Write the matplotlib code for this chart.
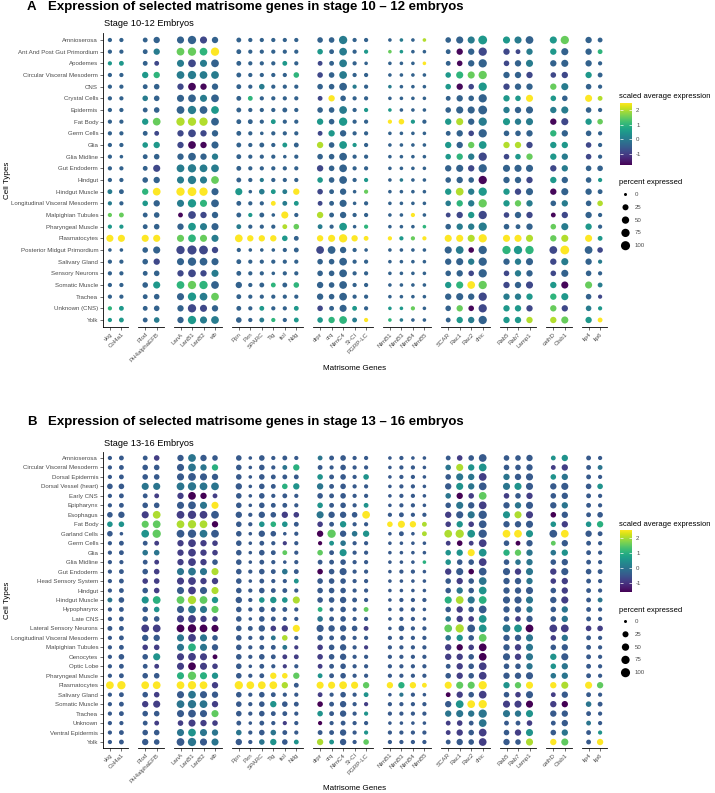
import numpy as np
import matplotlib as mpl
import matplotlib.pyplot as plt

plt.rcParams['font.family'] = ['Liberation Sans', 'DejaVu Sans']
plt.rcParams['axes.unicode_minus'] = False

W, H = 715, 793

GENE_GROUPS = [
    ["vkg", "Col4a1"],
    ["Plod", "PH4alphaEFB"],
    ["LanA", "LanB1", "LanB2", "wb"],
    ["Ppn", "Pxn", "SPARC", "Tig", "tiol", "Ndg"],
    ["drpr", "crq", "NimC4", "Sr-CI", "PGRP-LC"],
    ["NimB1", "NimB3", "NimB4", "NimB5"],
    ["SCAR", "Rac1", "Rac2", "chic"],
    ["Rab5", "Rab7", "Lamp1"],
    ["cathD", "Ctsb1"],
    ["lip4", "lip6"],
]

# one character per gene, groups split by spaces
# colour code -> scaled average expression, size code -> percent expressed
EXPR_LEVELS = [-1.7, -0.85, -0.45, 0.0, 0.5, 1.0, 1.5, 2.0, 2.5]
PCT_LEVELS = [1, 4, 9, 18, 30, 45, 60, 75, 90, 100]

cells_a = [
    "Amnioserosa", "Ant And Post Gut Primordium", "Apodemes",
    "Circular Visceral Mesoderm", "CNS", "Crystal Cells", "Epidermis",
    "Fat Body", "Germ Cells", "Glia", "Glia Midline", "Gut Endoderm",
    "Hindgut", "Hindgut Muscle", "Longitudinal Visceral Mesoderm",
    "Malpighian Tubules", "Pharyngeal Muscle", "Plasmatocytes",
    "Posterior Midgut Primordium", "Salivary Gland", "Sensory Neurons",
    "Somatic Muscle", "Trachea", "Unknown (CNS)", "Yolk",
]
expr_a = [
    "22 22 2212 222222 22322 2327 2234 432 46 22",
    "22 23 6658 222222 42324 6422 2021 113 42 25",
    "44 21 3132 222242 12322 2228 2022 123 22 22",
    "22 45 3333 222225 12322 2222 4566 221 11 42",
    "22 22 1002 223222 22232 3222 4014 122 63 22",
    "22 32 2232 252222 18222 2222 2222 448 42 87",
    "22 22 2324 222222 22324 4222 2222 322 33 22",
    "22 46 7772 222422 42422 8842 4723 433 01 46",
    "22 21 1112 222222 14222 2222 2212 222 52 22",
    "22 44 1002 222242 72442 2222 4264 771 44 12",
    "22 22 2223 222222 22222 2222 4531 146 43 12",
    "22 21 3333 222222 12222 2222 2212 222 13 22",
    "22 22 3336 223222 42224 2322 2220 221 42 24",
    "32 58 8882 423438 12226 2222 4734 412 02 22",
    "32 42 3452 222834 12222 2222 3536 463 23 27",
    "66 22 0112 242282 72222 2282 1141 121 01 22",
    "44 22 2432 322276 32425 2225 2333 222 63 42",
    "88 88 6563 888842 88888 8468 8878 887 67 84",
    "22 22 1111 222222 12222 2222 2302 545 18 21",
    "22 21 2222 222222 22222 2222 2232 232 13 23",
    "22 22 1113 222222 22222 2222 2212 132 12 22",
    "22 24 5652 222525 22222 2222 4586 121 40 63",
    "22 22 2436 222222 22222 2222 2221 334 54 21",
    "54 22 2112 224224 12242 4462 2601 441 61 34",
    "44 23 2433 223524 45538 5322 2432 447 76 48",
]
pct_a = [
    "11 24 5754 211111 33711 0000 3558 556 57 42",
    "11 24 6767 211111 32611 0000 2447 424 45 42",
    "12 22 5656 211121 22610 0000 2347 345 45 41",
    "11 44 6766 211113 33611 0000 3557 444 34 42",
    "11 23 4644 213111 33611 0000 3437 444 45 31",
    "11 33 5656 221111 24311 0000 2437 435 33 52",
    "11 23 6766 211121 33611 0000 3558 445 45 31",
    "11 46 7776 221211 43711 1311 4547 545 45 43",
    "11 22 4644 210111 24411 0000 2437 334 44 31",
    "11 34 4645 212122 43611 0000 4446 444 44 31",
    "10 23 4644 211101 33611 0000 3447 334 44 31",
    "11 25 6766 211111 43611 0000 4547 555 44 33",
    "11 34 5756 211111 33611 0000 3437 444 44 31",
    "22 46 7875 503224 32401 0000 4647 445 45 42",
    "11 34 5756 211222 22501 0000 3447 444 34 33",
    "12 23 2644 212051 42411 0010 2447 344 24 41",
    "11 23 4655 211123 21601 0000 3447 324 35 41",
    "55 55 5655 644432 45742 1111 5557 555 45 52",
    "00 35 7984 100012 66410 0000 5637 777 68 63",
    "11 34 5765 211111 33611 0000 4547 445 45 41",
    "11 23 4645 211011 33611 0000 3437 344 35 31",
    "11 35 6776 412223 43611 0000 4567 445 45 52",
    "11 23 5766 211111 43611 0000 4547 444 45 31",
    "12 23 4754 212112 32521 0010 3437 444 44 31",
    "12 23 4756 312112 34621 0000 2447 444 45 42",
]

cells_b = [
    "Amnioserosa", "Circular Visceral Mesoderm", "Dorsal Epidermis",
    "Dorsal Vessel (heart)", "Early CNS", "Epipharynx", "Esophagus",
    "Fat Body", "Garland Cells", "Germ Cells", "Glia", "Glia Midline",
    "Gut Endoderm", "Head Sensory System", "Hindgut", "Hindgut Muscle",
    "Hypopharynx", "Late CNS", "Lateral Sensory Neurons",
    "Longitudinal Visceral Mesoderm", "Malpighian Tubules", "Oenocytes",
    "Optic Lobe", "Pharyngeal Muscle", "Plasmatocytes", "Salivary Gland",
    "Somatic Muscle", "Trachea", "Unknown", "Ventral Epidermis", "Yolk",
]
expr_b = [
    "22 21 2322 222222 32222 2222 2122 222 44 22",
    "22 22 2335 222235 22222 2222 3744 222 11 23",
    "22 22 2222 222222 42224 2222 2331 322 43 22",
    "22 33 3333 222254 32222 2222 2432 342 22 24",
    "22 21 1001 222222 22222 2222 3016 121 22 22",
    "22 22 2238 222222 42224 2222 2321 232 23 22",
    "22 17 1112 222211 32228 2222 1232 471 02 22",
    "44 66 7770 224542 12422 8887 1412 222 41 45",
    "22 46 2232 222222 06234 2227 7742 884 28 22",
    "22 21 1111 222212 04322 2222 1011 202 62 22",
    "22 33 1111 222262 62422 2222 4484 563 34 22",
    "22 21 1112 222222 22222 2225 4221 233 22 22",
    "22 21 3337 222232 02222 2222 1202 213 12 22",
    "22 11 1111 222224 22222 2222 2123 223 11 22",
    "22 21 2127 222222 22222 2222 2324 222 21 22",
    "32 45 6764 224447 22222 2222 5735 223 21 23",
    "22 24 2336 222222 52226 2222 2122 223 23 22",
    "22 22 1111 222222 32222 2222 3114 212 23 22",
    "22 11 0000 222118 22221 2222 6724 340 11 11",
    "22 22 3132 222372 22222 2222 3426 223 13 22",
    "22 11 3532 222231 12221 2222 1010 213 22 22",
    "22 24 1110 222211 12222 2222 1120 213 42 22",
    "22 21 1011 222212 12222 2222 2121 223 43 22",
    "22 22 5654 222886 42222 2222 2121 222 33 22",
    "88 88 8881 888872 88886 8588 8668 468 87 86",
    "22 21 2322 222222 12224 2322 0121 212 12 22",
    "22 11 3331 222422 02221 2222 2488 110 10 32",
    "22 22 2226 222222 42224 2222 3333 334 22 22",
    "22 21 1111 222212 02222 2222 1123 221 22 32",
    "22 22 3433 322322 22224 2222 1121 214 23 24",
    "22 22 2323 223424 74226 2222 2221 227 86 28",
]
pct_b = [
    "12 23 4643 303121 22311 0100 2336 334 24 21",
    "12 33 5644 303124 21311 0110 3546 334 24 22",
    "12 33 5654 303222 32313 0110 3546 445 34 21",
    "33 55 6766 403234 42311 0110 4546 555 45 33",
    "12 22 4642 303121 32311 0110 3436 334 34 21",
    "12 33 5655 303221 32312 0110 3546 445 44 21",
    "34 56 6766 414343 54436 1211 4557 555 34 23",
    "33 56 6764 313332 32411 3542 3436 445 34 34",
    "30 67 6766 304301 47434 0202 6767 665 66 42",
    "12 22 4643 302111 12311 0000 2326 324 24 21",
    "12 33 4643 303221 32511 0000 3456 444 34 21",
    "11 22 4643 302101 22311 0000 3336 334 34 21",
    "12 33 5655 313232 33511 0110 4536 545 45 32",
    "12 33 5644 302112 33311 0000 3436 444 34 21",
    "12 33 5655 313221 33311 0000 3436 445 34 21",
    "23 56 6764 413435 33421 0111 5656 555 45 22",
    "12 33 5655 313221 21312 0110 3436 444 34 21",
    "12 33 5643 303211 32311 0110 3436 334 34 21",
    "22 66 6765 324345 54432 0311 6766 666 66 33",
    "12 44 5653 312231 32311 1111 3436 445 34 21",
    "12 33 5654 312221 33411 1111 4436 445 34 21",
    "13 35 5652 313222 33411 1111 4436 545 45 21",
    "12 22 5653 302111 22311 1111 2436 334 34 21",
    "12 33 5754 312434 22311 1111 3436 445 34 21",
    "67 66 6764 766642 55654 4442 5557 445 45 54",
    "12 33 5654 313211 21312 0110 2436 335 24 21",
    "12 45 6764 313432 32411 1111 4667 555 44 32",
    "12 33 5655 313221 32411 1111 4547 545 44 21",
    "11 22 3543 202111 11211 0000 2326 223 24 21",
    "12 33 5654 313321 22411 1111 2436 345 34 21",
    "12 43 6755 413432 42413 1111 2436 435 45 24",
]

LEGEND_PCT = [0, 25, 50, 75, 100]

fig = plt.figure(figsize=(W / 100, H / 100), dpi=100)
overlay = fig.add_axes([0, 0, 1, 1])
overlay.set_xlim(0, W)
overlay.set_ylim(H, 0)
overlay.axis('off')

GREY = '#4d4d4d'


def decode(rows, levels):
    return np.array([[levels[int(c)] for c in r.replace(" ", "")] for r in rows], dtype=float)


def px_axes(x0, y0, x1, y1):
    return fig.add_axes([x0 / W, 1 - y1 / H, (x1 - x0) / W, (y1 - y0) / H])


def dot_size(pct):
    # diameter grows with sqrt(percent), like ggplot's scale_size
    d_px = 3.0 + 6.1 * np.sqrt(np.asarray(pct) / 100)
    return (d_px * 0.72) ** 2


def draw_panel(letter, title, subtitle, cells, expr, pct, top, bottom, vmin, vmax,
               title_y, leg_y):
    E = decode(expr, EXPR_LEVELS)
    P = decode(pct, PCT_LEVELS)
    n = len(cells)
    norm = mpl.colors.Normalize(vmin, vmax)

    left, right, gap = 103, 607, 10
    unit = (right - left - gap * (len(GENE_GROUPS) - 1)) / sum(len(g) + 0.2 for g in GENE_GROUPS)
    x = left
    col = 0
    for gi, genes in enumerate(GENE_GROUPS):
        w = (len(genes) + 0.2) * unit
        ax = px_axes(x, top, x + w, bottom)
        ax.patch.set_alpha(0)
        for j in range(len(genes)):
            ax.scatter(np.full(n, j), np.arange(n), s=dot_size(P[:, col]), c=E[:, col],
                       cmap='viridis', norm=norm, linewidths=0, zorder=3)
            col += 1
        ax.set_xlim(-0.6, len(genes) - 0.4)
        ax.set_ylim(n - 0.4, -0.6)
        ax.set_xticks(range(len(genes)))
        ax.set_xticklabels(genes, rotation=45, ha='right', va='top', rotation_mode='anchor',
                           fontsize=4.4, color=GREY)
        ax.tick_params(axis='x', length=2, width=0.5, color='#333333', pad=1.5)
        for s in ['top', 'right']:
            ax.spines[s].set_visible(False)
        ax.spines['bottom'].set_linewidth(0.6)
        if gi == 0:
            ax.set_yticks(range(n))
            ax.set_yticklabels(cells, fontsize=4.4, color=GREY)
            ax.tick_params(axis='y', length=2, width=0.5, color='#333333', pad=1.5)
            ax.spines['left'].set_linewidth(0.6)
        else:
            ax.spines['left'].set_visible(False)
            ax.set_yticks([])
        x += w + gap

    # titles
    overlay.text(27, title_y, letter, fontsize=9.5, fontweight='bold', va='center', ha='left')
    overlay.text(48, title_y, title, fontsize=9.5, fontweight='bold', va='center', ha='left')
    overlay.text(104, top - 9, subtitle, fontsize=6.7, va='center', ha='left')
    overlay.text(8, (top + bottom) / 2, "Cell Types", fontsize=5.8, rotation=90,
                 va='center', ha='center')
    overlay.text((left + right) / 2, bottom + 41, "Matrisome Genes", fontsize=5.8,
                 va='center', ha='center')

    # colour bar
    overlay.text(619, leg_y, "scaled average expression", fontsize=5.5, va='center', ha='left')
    cax = px_axes(620, leg_y + 6, 632, leg_y + 68)
    cb = fig.colorbar(mpl.cm.ScalarMappable(norm=norm, cmap='viridis'), cax=cax,
                      ticks=[-1, 0, 1, 2])
    cb.outline.set_visible(False)
    cax.tick_params(length=2.2, width=0.5, color='white', direction='in',
                    left=True, right=True, labelleft=False, labelright=True,
                    labelsize=4.4, labelcolor=GREY, pad=3)

    # size legend
    sy = leg_y + 86
    overlay.text(619, sy, "percent expressed", fontsize=5.5, va='center', ha='left')
    ys = sy + 11.5 + 12.8 * np.arange(len(LEGEND_PCT))
    overlay.scatter(np.full(len(LEGEND_PCT), 625.5), ys, s=dot_size(LEGEND_PCT),
                    color='black', linewidths=0)
    for yy, p in zip(ys, LEGEND_PCT):
        overlay.text(635, yy, str(p), fontsize=4.4, color=GREY, va='center', ha='left')


draw_panel("A", "Expression of selected matrisome genes in stage 10 \u2013 12 embryos",
           "Stage 10-12 Embryos", cells_a, expr_a, pct_a, 33, 327, -1.77, 2.5, 7, 97)
draw_panel("B", "Expression of selected matrisome genes in stage 13 \u2013 16 embryos",
           "Stage 13-16 Embryos", cells_b, expr_b, pct_b, 452.3, 747.7, -1.6, 2.5, 422, 524)

fig.savefig("out.png", dpi=100)
